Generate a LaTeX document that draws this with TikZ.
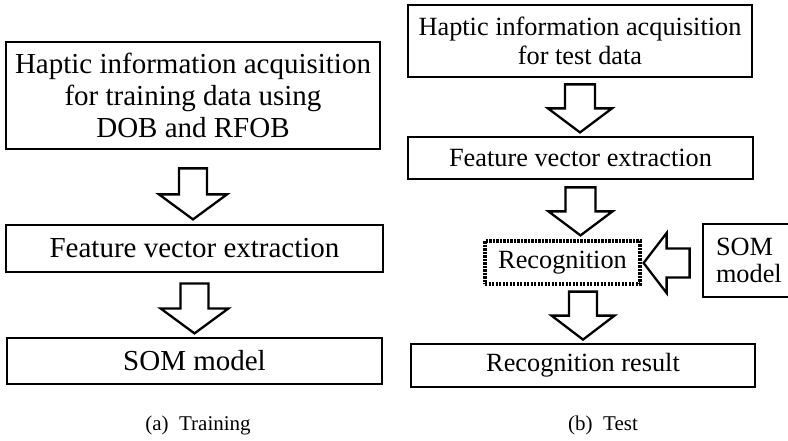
\documentclass[tikz,border=0pt]{standalone}
\usepackage{fontspec}
\setmainfont{Liberation Serif}
\usetikzlibrary{calc}
\newcommand{\trainfont}{\fontsize{29}{32}\selectfont}
\newcommand{\testfont}{\fontsize{26.3}{29.5}\selectfont}
\newcommand{\somfont}{\fontsize{26.3}{27}\selectfont}
\newcommand{\capfont}{\fontsize{21}{24}\selectfont}
\tikzset{
    stage/.style={draw, line width=2.8pt, inner sep=0pt, align=center},
    recog/.style={draw, line width=3.2pt, dash pattern=on 2.2pt off 1.3pt, inner sep=0pt},
    arrowline/.style={draw, line width=2.3pt, line join=miter},
    pics/hollow/.style args={#1/#2/#3/#4}{code={
        \draw[arrowline] (-#1/2,0) -- (#1/2,0) -- (#1/2,#3-#4) -- (#2/2,#3-#4) -- (0,#3)
            -- (-#2/2,#3-#4) -- (-#1/2,#3-#4) -- cycle;
    }}
}
\begin{document}
\begin{tikzpicture}[x=1pt,y=-1pt]
\useasboundingbox (0,0) rectangle (788,441);

% (a) training
\node[stage, minimum width=374, minimum height=107, font=\trainfont] (tr1) at (193,95.5)
    {Haptic information acquisition\\for training data using\\DOB and RFOB};
\node[stage, minimum width=377, minimum height=47, font=\trainfont] (tr2) at (194.5,248.5)
    {Feature vector extraction};
\node[stage, minimum width=375, minimum height=46, font=\trainfont] (tr3) at (194.5,361)
    {SOM model};
\pic at ($(tr1.south)+(0,18)$) {hollow={28/68/51/25}};
\pic at ($(tr2.south)+(0,10)$) {hollow={28/68/50/25}};

% (b) test
\node[stage, minimum width=344, minimum height=72, font=\testfont] (te1) at (580,41)
    {Haptic information acquisition\\for test data};
\node[stage, minimum width=345, minimum height=42, font=\testfont] (te2) at (580.5,158)
    {Feature vector extraction};
\node[recog, minimum width=155, minimum height=43, font=\testfont] (rec) at (562.5,262.5)
    {Recognition};
\node[stage, align=left, text width=66, minimum width=92, minimum height=73, font=\somfont] (som) at (749,260.5)
    {SOM\\model};
\node[stage, minimum width=344, minimum height=43, font=\testfont] (te3) at (583,365.5)
    {Recognition result};
\pic at ($(te1.south)+(0,6)$) {hollow={30/64/48/24}};
\pic at ($(te2.south)+(0,7)$) {hollow={30/64/48/24}};
\pic at ($(rec.south -| te3.north)+(0,6)$) {hollow={28/63/48/24}};
\pic[rotate=-90] at ($(som.west)+(-12,2.5)$) {hollow={29/60/46/23}};

% captions
\node[font=\capfont] (capa) at (198,425) {(a)\ \ Training};
\node[font=\capfont] (capb) at (603,425) {(b)\ \ Test};
\end{tikzpicture}
\end{document}
